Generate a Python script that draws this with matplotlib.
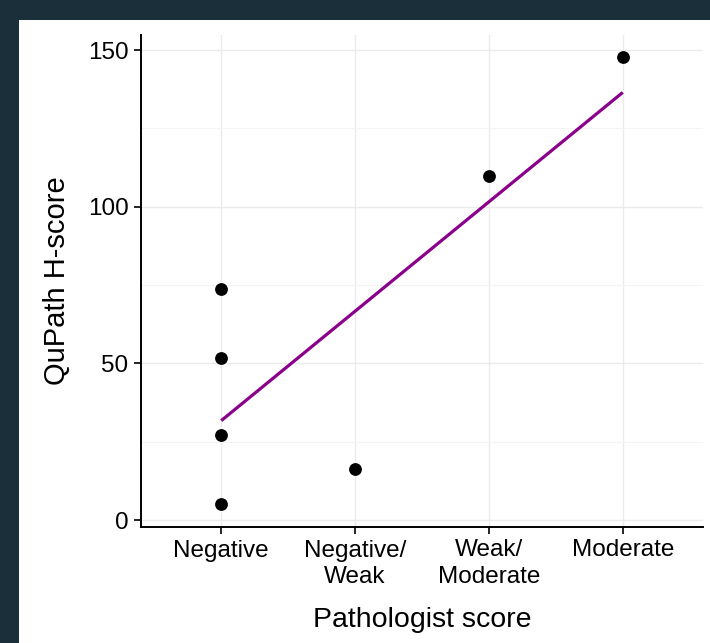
import numpy as np
import matplotlib
matplotlib.use("Agg")
import matplotlib.pyplot as plt
from matplotlib.patches import Rectangle

# ── data
categories = ["Negative", "Negative/\nWeak", "Weak/\nModerate", "Moderate"]
score_idx = [1, 1, 1, 1, 2, 3, 4]
hscore = [73.8, 51.6, 27.2, 5.2, 16.3, 109.9, 147.7]

plt.rcParams["font.family"] = ["Liberation Sans", "DejaVu Sans"]

fig = plt.figure(figsize=(7.10, 6.43), dpi=100, facecolor="#1a2f3a")
# white panel inside the dark frame (kept behind the axes)
panel = Rectangle((19 / 710, 0), 1 - 19 / 710, 1 - 20 / 643,
                  transform=fig.transFigure, facecolor="white",
                  edgecolor="none", zorder=-10)
fig.add_artist(panel)

ax = fig.add_axes([141 / 710, 1 - 527 / 643, (703 - 141) / 710, (527 - 35) / 643])
ax.set_facecolor("white")

# grid (major + minor)
grid_c = "#ebebeb"
ax.set_yticks([0, 50, 100, 150])
ax.set_yticks([25, 75, 125], minor=True)
ax.set_xticks(range(1, len(categories) + 1))
ax.set_xticklabels(categories)
ax.grid(True, which="major", color=grid_c, lw=1.0, zorder=0)
ax.grid(True, which="minor", axis="y", color="#f4f4f4", lw=0.8, zorder=0)
ax.tick_params(axis="y", which="minor", length=0)
ax.set_axisbelow(True)

# points
ax.scatter(score_idx, hscore, s=85, color="black", zorder=3, linewidths=0)

# linear fit
slope, inter = np.polyfit(score_idx, hscore, 1)
xs = np.array([min(score_idx), max(score_idx)])
ax.plot(xs, slope * xs + inter, color="#8b008b", lw=2.3, zorder=2,
        solid_capstyle="butt")

ax.set_xlim(0.4, 4.6)
ax.set_ylim(-2.2, 154.8)

for s in ["top", "right"]:
    ax.spines[s].set_visible(False)
for s in ["left", "bottom"]:
    ax.spines[s].set_color("black")
    ax.spines[s].set_linewidth(1.4)

ax.tick_params(axis="both", which="major", length=5, width=1.2, color="black",
               labelsize=17.5, labelcolor="black", pad=4)
ax.tick_params(axis="x", pad=4)
for lab in ax.get_xticklabels():
    lab.set_linespacing(1.25)

ax.set_xlabel("Pathologist score", fontsize=20.5, labelpad=14)
ax.set_ylabel("QuPath H-score", fontsize=21, labelpad=12)

fig.savefig("out.png", dpi=100, facecolor=fig.get_facecolor())
